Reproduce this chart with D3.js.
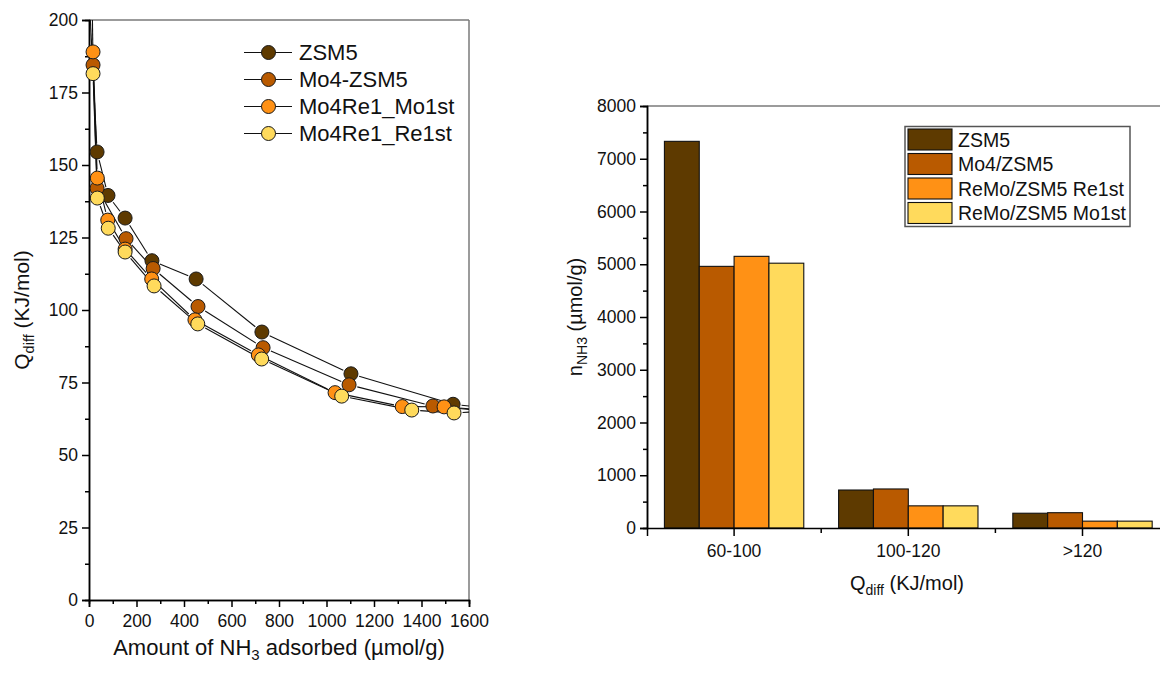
<!DOCTYPE html>
<html>
<head>
<meta charset="utf-8">
<script src="https://cdn.jsdelivr.net/npm/d3@7"></script>
<style>
  body { margin: 0; background: #fff; }
  svg { font-family: "Liberation Sans", Arial, sans-serif; }
</style>
</head>
<body>
<svg id="viz"></svg>
<script>
var width = 1160;
var height = 673;

// ---- left panel data: Qdiff vs amount adsorbed ----
var seriesNames = ["ZSM5", "Mo4-ZSM5", "Mo4Re1_Mo1st", "Mo4Re1_Re1st"];
var seriesColors = ["#5e3a00", "#b95a00", "#ff9115", "#ffda5c"];

var zsm5Pts = [[2, 206], [34, 154.5], [80, 139.5], [152, 131.7], [265, 117], [451, 110.7], [728, 92.4], [1103, 78], [1533, 67.5], [1750, 65.5]];
var mo4Pts = [[12, 215], [17, 184.5], [34, 142], [156, 124.6], [270, 114.3], [459, 101.2], [733, 87], [1095, 74.2], [1448, 66.9], [1750, 64.5]];
var mo1stPts = [[17, 189], [35, 145.5], [79, 131], [152, 121], [264, 110.7], [446, 96.6], [713, 84.5], [1036, 71.5], [1319, 66.7], [1495, 66.6], [1750, 65]];
var re1stPts = [[17, 181.5], [35, 138.6], [81, 128.2], [152, 120], [274, 108.3], [458, 95.2], [727, 83.1], [1064, 70.3], [1359, 65.5], [1537, 64.5], [1750, 65.5]];
var lineData = [zsm5Pts, mo4Pts, mo1stPts, re1stPts];

var leftYTicks = [0, 25, 50, 75, 100, 125, 150, 175, 200];
var leftXTicks = [0, 200, 400, 600, 800, 1000, 1200, 1400, 1600];

// ---- right panel data: amount per heat range ----
var categories = ["60-100", "100-120", ">120"];
var barNames = ["ZSM5", "Mo4/ZSM5", "ReMo/ZSM5 Re1st", "ReMo/ZSM5 Mo1st"];
var barColors = ["#5e3a00", "#b95a00", "#ff9115", "#ffda5c"];
var zsm5Bars = [7330, 720, 280];
var mo4Bars = [4960, 740, 290];
var re1stBars = [5150, 420, 130];
var mo1stBars = [5020, 420, 130];
var barValues = [zsm5Bars, mo4Bars, re1stBars, mo1stBars];

var rightYTicks = [0, 1000, 2000, 3000, 4000, 5000, 6000, 7000, 8000];

var svg = d3.select("#viz")
  .attr("width", width)
  .attr("height", height);

function styleAxis(g, fs) {
  g.select("path.domain").attr("stroke", "#000").attr("stroke-width", 1.5);
  g.selectAll(".tick line").attr("stroke", "#000").attr("stroke-width", 1.5);
  g.selectAll(".tick text")
    .attr("fill", "#111")
    .style("font-size", fs + "px")
    .style("font-family", "'Liberation Sans', Arial, sans-serif");
}

// ================= LEFT PANEL =================
var xL = d3.scaleLinear().domain([0, 1600]).range([89, 469]);
var yL = d3.scaleLinear().domain([0, 200]).range([600, 20]);
var markR = 7;

svg.append("clipPath").attr("id", "clipL")
  .append("rect")
  .attr("x", xL(0)).attr("y", yL(200))
  .attr("width", xL(1600) - xL(0)).attr("height", yL(0) - yL(200));

// frame (grey top / right)
svg.append("line")
  .attr("x1", xL(0)).attr("x2", xL(1600)).attr("y1", yL(200)).attr("y2", yL(200))
  .attr("stroke", "#7a7a7a").attr("stroke-width", 1.5);
svg.append("line")
  .attr("x1", xL(1600)).attr("x2", xL(1600)).attr("y1", yL(200)).attr("y2", yL(0))
  .attr("stroke", "#7a7a7a").attr("stroke-width", 1.5);

// axes
var lyMinor = svg.append("g").attr("transform", "translate(" + xL(0) + ",0)")
  .call(d3.axisLeft(yL).tickValues(d3.range(12.5, 200, 25)).tickSize(4).tickFormat(""));
styleAxis(lyMinor, 17);
var lyAxis = svg.append("g").attr("transform", "translate(" + xL(0) + ",0)")
  .call(d3.axisLeft(yL).tickValues(leftYTicks).tickSize(7).tickPadding(4).tickFormat(d3.format("d")));
styleAxis(lyAxis, 17.5);

var lxMinor = svg.append("g").attr("transform", "translate(0," + yL(0) + ")")
  .call(d3.axisBottom(xL).tickValues(d3.range(100, 1600, 200)).tickSize(4).tickFormat(""));
styleAxis(lxMinor, 17);
var lxAxis = svg.append("g").attr("transform", "translate(0," + yL(0) + ")")
  .call(d3.axisBottom(xL).tickValues(leftXTicks).tickSize(7).tickPadding(8).tickFormat(d3.format("d")));
styleAxis(lxAxis, 17.5);

// lines with small gaps around the markers
function gapSegments(pts) {
  var segs = [];
  for (var i = 1; i < pts.length; i++) {
    var x1 = xL(pts[i - 1][0]), y1 = yL(pts[i - 1][1]);
    var x2 = xL(pts[i][0]), y2 = yL(pts[i][1]);
    var dx = x2 - x1, dy = y2 - y1;
    var len = Math.sqrt(dx * dx + dy * dy);
    var g = markR + 1.5;
    if (len <= 2 * g) continue;
    segs.push([x1 + dx * g / len, y1 + dy * g / len, x2 - dx * g / len, y2 - dy * g / len]);
  }
  return segs;
}

var lineLayer = svg.append("g").attr("clip-path", "url(#clipL)");
lineData.forEach(function(pts) {
  lineLayer.append("g").selectAll("line")
    .data(gapSegments(pts)).enter()
    .append("line")
    .attr("x1", function(d) { return d[0]; })
    .attr("y1", function(d) { return d[1]; })
    .attr("x2", function(d) { return d[2]; })
    .attr("y2", function(d) { return d[3]; })
    .attr("stroke", "#111")
    .attr("stroke-width", 1.1);
});

lineData.forEach(function(pts, i) {
  svg.append("g").selectAll("circle")
    .data(pts.filter(function(d) { return d[1] <= 200 && d[0] <= 1600; }))
    .enter().append("circle")
    .attr("cx", function(d) { return xL(d[0]); })
    .attr("cy", function(d) { return yL(d[1]); })
    .attr("r", markR)
    .attr("fill", seriesColors[i])
    .attr("stroke", "#1a1a1a")
    .attr("stroke-width", 1);
});

// legend left
var legL = svg.append("g");
seriesNames.forEach(function(name, i) {
  var yy = 52.5 + i * 27;
  legL.append("line").attr("x1", 244).attr("x2", 292).attr("y1", yy).attr("y2", yy)
    .attr("stroke", "#111").attr("stroke-width", 1.1);
  legL.append("circle").attr("cx", 268.5).attr("cy", yy).attr("r", markR)
    .attr("fill", seriesColors[i]).attr("stroke", "#1a1a1a").attr("stroke-width", 1);
  legL.append("text").attr("x", 299).attr("y", yy).attr("dy", "0.36em")
    .style("font-size", "22px").attr("fill", "#111").text(name);
});

// axis titles left
var lxt = svg.append("text")
  .attr("x", (xL(0) + xL(1600)) / 2).attr("y", 655)
  .attr("text-anchor", "middle").style("font-size", "22px").attr("fill", "#111");
lxt.append("tspan").text("Amount of NH");
lxt.append("tspan").attr("dy", 5).style("font-size", "15px").text("3");
lxt.append("tspan").attr("dy", -5).text(" adsorbed (\u00b5mol/g)");

var lyt = svg.append("text")
  .attr("transform", "translate(29," + ((yL(0) + yL(200)) / 2) + ") rotate(-90)")
  .attr("text-anchor", "middle").style("font-size", "21px").attr("fill", "#111");
lyt.append("tspan").text("Q");
lyt.append("tspan").attr("dy", 5).style("font-size", "14.5px").text("diff");
lyt.append("tspan").attr("dy", -5).text(" (KJ/mol)");

// ================= RIGHT PANEL =================
var xR = d3.scaleBand().domain(categories).range([647, 1169.6]).padding(0);
var xSub = d3.scaleBand().domain(d3.range(barNames.length))
  .range([0, xR.bandwidth()]).paddingOuter(0.5).paddingInner(0);
var yR = d3.scaleLinear().domain([0, 8000]).range([528, 106]);

svg.append("line")
  .attr("x1", xR.range()[0]).attr("x2", xR.range()[1]).attr("y1", yR(8000)).attr("y2", yR(8000))
  .attr("stroke", "#7a7a7a").attr("stroke-width", 1.5);

// bars
barValues.forEach(function(vals, s) {
  svg.append("g").selectAll("rect")
    .data(vals).enter()
    .append("rect")
    .attr("x", function(d, i) { return xR(categories[i]) + xSub(s); })
    .attr("y", function(d) { return yR(d); })
    .attr("width", xSub.bandwidth())
    .attr("height", function(d) { return yR(0) - yR(d); })
    .attr("fill", barColors[s])
    .attr("stroke", "#111")
    .attr("stroke-width", 1.1);
});

var ryMinor = svg.append("g").attr("transform", "translate(" + xR.range()[0] + ",0)")
  .call(d3.axisLeft(yR).tickValues(d3.range(500, 8000, 1000)).tickSize(4).tickFormat(""));
styleAxis(ryMinor, 17);
var ryAxis = svg.append("g").attr("transform", "translate(" + xR.range()[0] + ",0)")
  .call(d3.axisLeft(yR).tickValues(rightYTicks).tickSize(7).tickPadding(4).tickFormat(d3.format("d")));
styleAxis(ryAxis, 17.5);

var rxAxis = svg.append("g").attr("transform", "translate(0," + yR(0) + ")")
  .call(d3.axisBottom(xR).tickSize(8).tickPadding(9));
styleAxis(rxAxis, 17.5);
// minor ticks on category boundaries
rxAxis.selectAll("line.bound")
  .data(categories.slice(1)).enter()
  .append("line").attr("class", "bound")
  .attr("x1", function(d) { return xR(d); }).attr("x2", function(d) { return xR(d); })
  .attr("y1", 0).attr("y2", 5)
  .attr("stroke", "#000").attr("stroke-width", 1.5);

// legend right
var legR = svg.append("g");
legR.append("rect").attr("x", 905).attr("y", 126.5).attr("width", 225).attr("height", 100)
  .attr("fill", "#fff").attr("stroke", "#555").attr("stroke-width", 1.5);
barNames.forEach(function(name, i) {
  var top = 129 + i * 24.5;
  legR.append("rect").attr("x", 908).attr("y", top).attr("width", 44).attr("height", 21)
    .attr("fill", barColors[i]).attr("stroke", "#111").attr("stroke-width", 1.1);
  legR.append("text").attr("x", 958).attr("y", top + 10.5).attr("dy", "0.36em")
    .style("font-size", "19.5px").attr("fill", "#111").text(name);
});

// axis titles right
var rxt = svg.append("text")
  .attr("x", 907).attr("y", 590)
  .attr("text-anchor", "middle").style("font-size", "20px").attr("fill", "#111");
rxt.append("tspan").text("Q");
rxt.append("tspan").attr("dy", 5).style("font-size", "14px").text("diff");
rxt.append("tspan").attr("dy", -5).text(" (KJ/mol)");

var ryt = svg.append("text")
  .attr("transform", "translate(582," + ((yR(0) + yR(8000)) / 2) + ") rotate(-90)")
  .attr("text-anchor", "middle").style("font-size", "20px").attr("fill", "#111");
ryt.append("tspan").text("n");
ryt.append("tspan").attr("dy", 5).style("font-size", "14px").text("NH3");
ryt.append("tspan").attr("dy", -5).text(" (\u00b5mol/g)");
</script>
</body>
</html>
